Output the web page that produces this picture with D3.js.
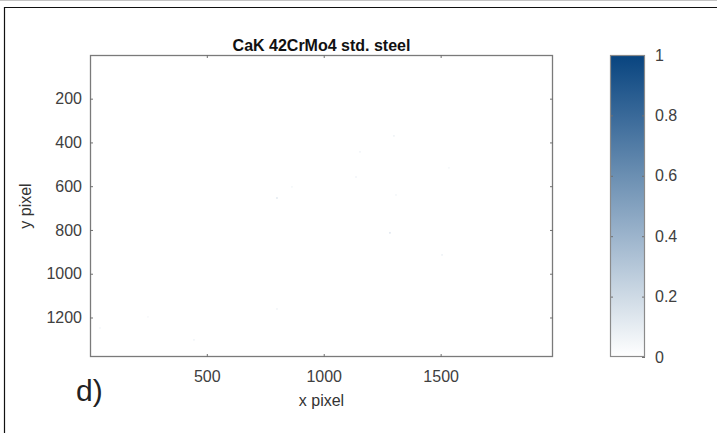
<!DOCTYPE html>
<html>
<head>
<meta charset="utf-8">
<script src="https://cdn.jsdelivr.net/npm/d3@7"></script>
<style>
	body { margin: 0; background: #fff; }
	svg { display: block; font-family: "Liberation Sans", Arial, sans-serif; }
	.tick text { fill: #404040; font-size: 16px; }
	.tick line { stroke: #6f6f6f; }
</style>
</head>
<body>
<div id="chart"></div>
<script>
// faint spots found in the map (x pixel, y pixel, intensity)
var spot_x = [864, 800, 1300, 1155, 1535, 1138, 1309, 43, 248, 445, 800, 1283, 1506];
var spot_y = [603, 654, 370, 443, 516, 558, 640, 1248, 1197, 1302, 1161, 813, 914];
var spot_v = [0.04, 0.1, 0.06, 0.05, 0.04, 0.05, 0.04, 0.04, 0.03, 0.05, 0.05, 0.11, 0.06];

var x_ticks = [500, 1000, 1500];
var y_ticks = [200, 400, 600, 800, 1000, 1200];
var c_ticks = [0, 0.2, 0.4, 0.6, 0.8, 1];

var img_w = 1980, img_h = 1380;

window.onload = function() {
	main();
};

function main() {
	var W = 717, H = 433;
	var svg = d3.select("#chart")
		.append("svg")
		.attr("width", W)
		.attr("height", H);

	// frame of the figure panel
	svg.append("line")
		.attr("x1", 0).attr("x2", W)
		.attr("y1", 0.5).attr("y2", 0.5)
		.attr("stroke", "#c4c4c4");
	svg.append("path")
		.attr("d", "M4.5," + H + "V7.5H" + W)
		.attr("fill", "none")
		.attr("stroke", "#111")
		.attr("stroke-width", 1.2);

	var left = 90, right = 553, top = 55, bottom = 357;

	var x = d3.scaleLinear().domain([0.5, img_w + 0.5]).range([left, right]);
	var y = d3.scaleLinear().domain([0.5, img_h + 0.5]).range([top, bottom]);
	var color = d3.scaleLinear().domain([0, 1]).range(["#ffffff", "#08447f"]);

	var plot = svg.append("g");

	plot.append("rect")
		.attr("x", left).attr("y", top)
		.attr("width", right - left).attr("height", bottom - top)
		.attr("fill", color(0));

	var cell = 8;
	plot.selectAll(".spot")
		.data(d3.range(spot_x.length))
		.enter()
		.append("rect")
		.attr("class", "spot")
		.attr("x", function(i) { return x(spot_x[i] - cell / 2); })
		.attr("y", function(i) { return y(spot_y[i] - cell / 2); })
		.attr("width", x(cell) - x(0))
		.attr("height", y(cell) - y(0))
		.attr("fill", function(i) { return color(spot_v[i]); });

	// ticks on all four sides, pointing inward
	function ticks(axis, tx, ty) {
		var g = svg.append("g")
			.attr("transform", "translate(" + tx + "," + ty + ")")
			.call(axis);
		g.select(".domain").remove();
		return g;
	}
	ticks(d3.axisBottom(x).tickValues(x_ticks).tickSize(-3).tickPadding(14).tickFormat(d3.format("d")), 0, bottom);
	ticks(d3.axisTop(x).tickValues(x_ticks).tickSize(-3).tickFormat(""), 0, top);
	ticks(d3.axisLeft(y).tickValues(y_ticks).tickSize(-3).tickPadding(8).tickFormat(d3.format("d")), left, 0);
	ticks(d3.axisRight(y).tickValues(y_ticks).tickSize(-3).tickFormat(""), right, 0);

	plot.append("rect")
		.attr("x", left + 0.5).attr("y", top + 0.5)
		.attr("width", right - left - 1).attr("height", bottom - top - 1)
		.attr("fill", "none")
		.attr("stroke", "#7a7a7a")
		.attr("stroke-width", 1.3);

	svg.append("text")
		.attr("x", (left + right) / 2)
		.attr("y", top - 4)
		.attr("text-anchor", "middle")
		.style("font-weight", "bold")
		.style("font-size", "16px")
		.attr("fill", "#111")
		.text("CaK 42CrMo4 std. steel");

	svg.append("text")
		.attr("x", (left + right) / 2)
		.attr("y", 406)
		.attr("text-anchor", "middle")
		.style("font-size", "16px")
		.attr("fill", "#333")
		.text("x pixel");

	svg.append("text")
		.attr("transform", "translate(31," + (top + bottom) / 2 + ") rotate(-90)")
		.attr("text-anchor", "middle")
		.style("font-size", "16px")
		.attr("fill", "#333")
		.text("y pixel");

	svg.append("text")
		.attr("x", 76)
		.attr("y", 401)
		.style("font-size", "30px")
		.attr("fill", "#222")
		.text("d)");

	// colorbar
	var cb_l = 610, cb_r = 645;
	var c = d3.scaleLinear().domain([0, 1]).range([bottom, top]);

	var grad = svg.append("defs")
		.append("linearGradient")
		.attr("id", "cgrad")
		.attr("x1", 0).attr("x2", 0)
		.attr("y1", 1).attr("y2", 0);
	grad.selectAll("stop")
		.data(c_ticks)
		.enter()
		.append("stop")
		.attr("offset", function(d) { return d; })
		.attr("stop-color", function(d) { return color(d); });

	svg.append("rect")
		.attr("x", cb_l).attr("y", top)
		.attr("width", cb_r - cb_l).attr("height", bottom - top)
		.attr("fill", "url(#cgrad)");

	ticks(d3.axisRight(c).tickValues(c_ticks).tickSize(-3).tickPadding(10).tickFormat(d3.format("")), cb_r, 0);
	ticks(d3.axisLeft(c).tickValues(c_ticks.slice(1, 5)).tickSize(-3).tickFormat(""), cb_l, 0);

	svg.append("rect")
		.attr("x", cb_l + 0.5).attr("y", top + 0.5)
		.attr("width", cb_r - cb_l - 1).attr("height", bottom - top - 1)
		.attr("fill", "none")
		.attr("stroke", "#8a8a8a")
		.attr("stroke-width", 1.2);
}
</script>
</body>
</html>
